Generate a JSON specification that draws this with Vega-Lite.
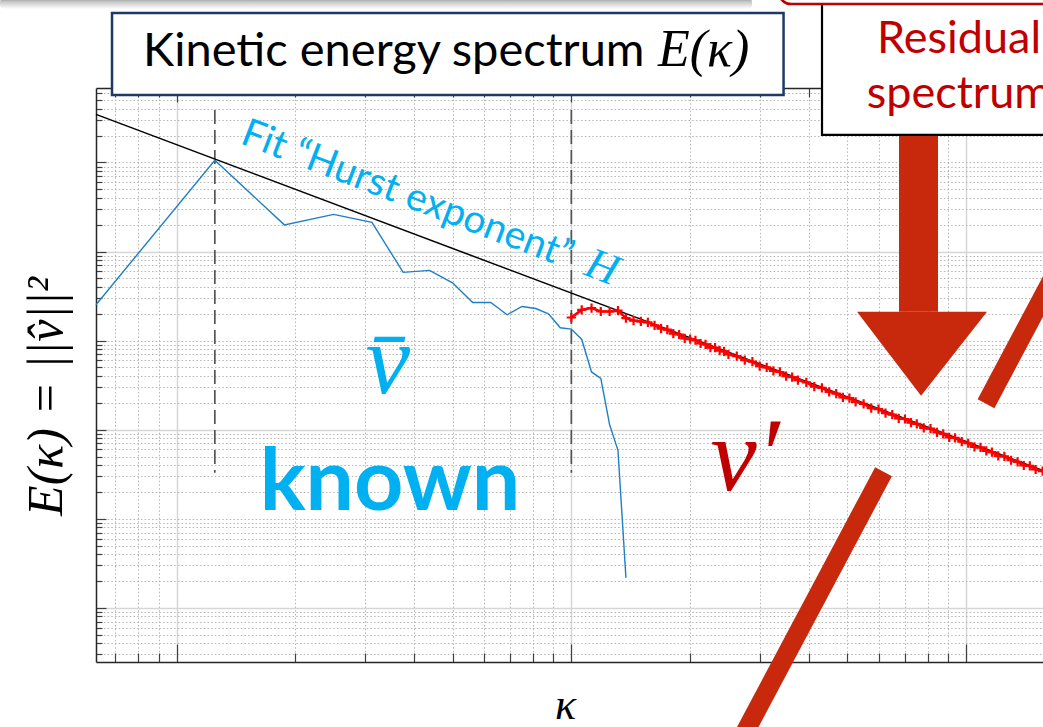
{
  "$schema": "https://vega.github.io/schema/vega-lite/v6.json",
  "width": 947,
  "height": 574,
  "autosize": {"type": "none"},
  "padding": {"left": 96, "top": 88, "right": 0, "bottom": 65},
  "background": "white",
  "config": {"view": {"stroke": null}},
  "datasets": {
    "blue": [
      {"k": 6.25, "e": 2.524e-3}, {"k": 12.5, "e": 0.1060}, {"k": 18.75, "e": 0.01993}, {"k": 25, "e": 0.02614},
      {"k": 31.25, "e": 0.02127}, {"k": 37.5, "e": 5.843e-3}, {"k": 43.75, "e": 6.152e-3}, {"k": 50, "e": 4.455e-3},
      {"k": 56.25, "e": 2.678e-3}, {"k": 62.5, "e": 2.678e-3}, {"k": 68.75, "e": 1.950e-3}, {"k": 75, "e": 2.416e-3},
      {"k": 81.25, "e": 2.294e-3}, {"k": 87.5, "e": 2.000e-3}, {"k": 93.75, "e": 1.393e-3}, {"k": 100, "e": 1.348e-3},
      {"k": 106.25, "e": 1.030e-3}, {"k": 112.5, "e": 4.450e-4}, {"k": 118.75, "e": 3.763e-4}, {"k": 125, "e": 1.138e-4},
      {"k": 131.25, "e": 5.857e-5}, {"k": 137.5, "e": 2.171e-6}
    ],
    "fit": [{"k": 6.25, "e": 0.3470}, {"k": 1566, "e": 3.484e-5}],
    "vlines": [{"k": 12.5, "e": 0.3885, "e2": 3.293e-5}, {"k": 100, "e": 0.3885, "e2": 3.293e-5}],
    "red": [
      {"k": 100, "e": 1.817e-3}, {"k": 106.25, "e": 2.216e-3}, {"k": 112.5, "e": 2.319e-3}, {"k": 118.75, "e": 2.123e-3},
      {"k": 125, "e": 2.123e-3}, {"k": 131.25, "e": 2.171e-3}, {"k": 137.5, "e": 1.790e-3}, {"k": 143.75, "e": 1.681e-3},
      {"k": 150, "e": 1.640e-3}, {"k": 156.25, "e": 1.605e-3}, {"k": 162.5, "e": 1.486e-3}, {"k": 168.75, "e": 1.364e-3},
      {"k": 175, "e": 1.328e-3}, {"k": 181.25, "e": 1.197e-3}, {"k": 187.5, "e": 1.171e-3}, {"k": 193.75, "e": 1.059e-3},
      {"k": 200, "e": 1.039e-3}, {"k": 206.25, "e": 1.010e-3}, {"k": 212.5, "e": 9.286e-4}, {"k": 218.75, "e": 9.054e-4},
      {"k": 225, "e": 8.348e-4}, {"k": 231.25, "e": 8.350e-4}, {"k": 237.5, "e": 7.715e-4}, {"k": 243.75, "e": 7.560e-4},
      {"k": 250, "e": 7.000e-4}, {"k": 262.5, "e": 6.682e-4}, {"k": 275, "e": 6.043e-4}, {"k": 287.5, "e": 5.807e-4},
      {"k": 300, "e": 5.166e-4}, {"k": 312.5, "e": 4.997e-4}, {"k": 325, "e": 4.574e-4}, {"k": 337.5, "e": 4.446e-4},
      {"k": 350, "e": 3.996e-4}, {"k": 362.5, "e": 3.901e-4}, {"k": 375, "e": 3.603e-4}, {"k": 393.75, "e": 3.399e-4},
      {"k": 412.5, "e": 3.039e-4}, {"k": 431.25, "e": 2.954e-4}, {"k": 450, "e": 2.659e-4}, {"k": 468.75, "e": 2.542e-4},
      {"k": 487.5, "e": 2.300e-4}, {"k": 506.25, "e": 2.262e-4}, {"k": 525, "e": 2.057e-4}, {"k": 550, "e": 1.948e-4},
      {"k": 575, "e": 1.747e-4}, {"k": 600, "e": 1.704e-4}, {"k": 625, "e": 1.538e-4}, {"k": 650, "e": 1.474e-4},
      {"k": 675, "e": 1.337e-4}, {"k": 700, "e": 1.318e-4}, {"k": 725, "e": 1.201e-4}, {"k": 750, "e": 1.161e-4},
      {"k": 781.25, "e": 1.048e-4}, {"k": 812.5, "e": 1.028e-4}, {"k": 843.75, "e": 9.326e-5}, {"k": 875, "e": 8.983e-5},
      {"k": 906.25, "e": 8.185e-5}, {"k": 937.5, "e": 8.100e-5}, {"k": 975, "e": 7.330e-5}, {"k": 1012.5, "e": 7.043e-5},
      {"k": 1050, "e": 6.403e-5}, {"k": 1087.5, "e": 6.324e-5}, {"k": 1125, "e": 5.774e-5}, {"k": 1162.5, "e": 5.595e-5},
      {"k": 1206.25, "e": 5.082e-5}, {"k": 1250, "e": 5.014e-5}, {"k": 1300, "e": 4.538e-5}, {"k": 1350, "e": 4.360e-5},
      {"k": 1400, "e": 3.964e-5}, {"k": 1450, "e": 3.915e-5}, {"k": 1500, "e": 3.575e-5}, {"k": 1562.5, "e": 3.417e-5}
    ],
    "fitlabel": [{"k": 14.4, "e": 0.1657, "t": "Fit “Hurst exponent”"}],
    "hlabel": [{"k": 119.5, "e": 6.565e-3, "t": "H"}],
    "vbar": [{"k": 34.32, "e": 2.600e-4, "t": "v̄"}],
    "known": [{"k": 34.72, "e": 1.266e-5, "t": "known"}],
    "vprime": [{"k": 275.4, "e": 2.123e-5, "t": "v′"}],
    "shaft": [{"k": 676.1, "k2": 848.9, "e": 0.3001, "e2": 2.106e-3}],
    "head": [
      {"k": 529.3, "e": 2.106e-3, "e2": 2.106e-3},
      {"k": 768.9, "e": 2.106e-3, "e2": 2.406e-4},
      {"k": 1129.8, "e": 2.106e-3, "e2": 2.106e-3}
    ],
    "diag": [
      {"k": 617.8, "e": 3.379e-5, "k2": 253.1, "e2": 1.987e-8},
      {"k": 1123.2, "e": 1.956e-4, "k2": 1810, "e2": 1.045e-2}
    ],
    "topband": [{"k": 3.571, "k2": 286.9, "e": 7.011, "e2": 5.277}],
    "titlebox": [{"k": 6.862, "k2": 344.8, "e": 4.759, "e2": 0.5724}],
    "titletext": [{"k": 8.224, "e": 1.211, "t": "Kinetic energy spectrum"}],
    "titlemath": [{"k": 165.8, "e": 1.211, "t": "E(κ)"}],
    "resbox": [{"k": 431.5, "k2": 2184, "e": 30, "e2": 0.2037}],
    "restext": [{"k": 594.8, "e": 1.694, "t": "Residual"}, {"k": 560.1, "e": 0.4090, "t": "spectrum"}],
    "redbox": [{"k": 335.8, "k2": 2184, "e": 18.71, "e2": 6.004}]
  },
  "resolve": {"axis": {"x": "independent", "y": "independent"}},
  "encoding": {
    "x": {"field": "k", "type": "quantitative", "scale": {"type": "log", "domain": [6.25, 1566], "nice": false}, "axis": null},
    "y": {"field": "e", "type": "quantitative", "scale": {"type": "log", "domain": [2.466e-7, 0.6856], "nice": false}, "axis": null}
  },
  "layer": [
    {
      "data": {"name": "vlines"},
      "mark": {"type": "rule", "color": "#555555", "strokeWidth": 1.7, "strokeDash": [14, 6]},
      "encoding": {
        "x": {
          "field": "k", "type": "quantitative",
          "scale": {"type": "log", "domain": [6.25, 1566], "nice": false},
          "axis": {
            "orient": "bottom",
            "values": [7, 8, 9, 10, 20, 30, 40, 50, 60, 70, 80, 90, 100, 200, 300, 400, 500, 600, 700, 800, 900, 1000],
            "labels": false,
            "grid": true,
            "gridColor": {"condition": {"test": "abs(log(datum.value)/LN10 - round(log(datum.value)/LN10)) < 0.001", "value": "#d6d6d6"}, "value": "#b5b5b5"},
            "gridDash": {"condition": {"test": "abs(log(datum.value)/LN10 - round(log(datum.value)/LN10)) < 0.001", "value": []}, "value": [1.5, 2.2]},
            "gridWidth": {"condition": {"test": "abs(log(datum.value)/LN10 - round(log(datum.value)/LN10)) < 0.001", "value": 1.5}, "value": 1},
            "tickSize": {"condition": {"test": "abs(log(datum.value)/LN10 - round(log(datum.value)/LN10)) < 0.001", "value": -18}, "value": -9},
            "tickColor": "#404040",
            "tickWidth": 1.2,
            "domainColor": "#262626",
            "domainWidth": 1.5,
            "title": "κ",
            "titleFont": "Liberation Serif",
            "titleFontStyle": "italic",
            "titleFontWeight": "normal",
            "titleFontSize": 44,
            "titleColor": "#000000",
            "titleX": 469,
            "titleY": 43,
            "titleAlign": "center",
            "titleBaseline": "middle"
          }
        },
        "y": {
          "field": "e", "type": "quantitative",
          "scale": {"type": "log", "domain": [2.466e-7, 0.6856], "nice": false},
          "axis": {
            "orient": "left",
            "values": [3e-7, 4e-7, 5e-7, 6e-7, 7e-7, 8e-7, 9e-7,
              1e-6, 2e-6, 3e-6, 4e-6, 5e-6, 6e-6, 7e-6, 8e-6, 9e-6,
              1e-5, 2e-5, 3e-5, 4e-5, 5e-5, 6e-5, 7e-5, 8e-5, 9e-5,
              1e-4, 2e-4, 3e-4, 4e-4, 5e-4, 6e-4, 7e-4, 8e-4, 9e-4,
              1e-3, 2e-3, 3e-3, 4e-3, 5e-3, 6e-3, 7e-3, 8e-3, 9e-3,
              1e-2, 2e-2, 3e-2, 4e-2, 5e-2, 6e-2, 7e-2, 8e-2, 9e-2,
              1e-1, 2e-1, 3e-1, 4e-1, 5e-1, 6e-1],
            "labels": false,
            "grid": true,
            "gridColor": {"condition": {"test": "abs(log(datum.value)/LN10 - round(log(datum.value)/LN10)) < 0.001 && round(log(datum.value)/LN10) % 2 == 0", "value": "#d6d6d6"}, "value": "#b5b5b5"},
            "gridDash": {"condition": {"test": "abs(log(datum.value)/LN10 - round(log(datum.value)/LN10)) < 0.001 && round(log(datum.value)/LN10) % 2 == 0", "value": []}, "value": [1.5, 2.2]},
            "gridWidth": {"condition": {"test": "abs(log(datum.value)/LN10 - round(log(datum.value)/LN10)) < 0.001 && round(log(datum.value)/LN10) % 2 == 0", "value": 1.5}, "value": 1},
            "tickSize": {"condition": {"test": "abs(log(datum.value)/LN10 - round(log(datum.value)/LN10)) < 0.001", "value": -10}, "value": -6},
            "tickColor": "#404040",
            "tickWidth": 1.2,
            "domainColor": "#262626",
            "domainWidth": 1.5,
            "title": "E(κ) = ||v̂||²",
            "titleFont": "Liberation Serif",
            "titleFontStyle": "italic",
            "titleFontWeight": "normal",
            "titleFontSize": 50,
            "titleColor": "#000000",
            "titleX": -50,
            "titleY": 308,
            "titleAngle": -90,
            "titleAlign": "center",
            "titleBaseline": "middle"
          }
        },
        "y2": {"field": "e2"}
      }
    },
    {
      "data": {"name": "fit"},
      "mark": {"type": "line", "color": "#000000", "strokeWidth": 1.5},
      "encoding": {
        "x": {
          "field": "k", "type": "quantitative",
          "scale": {"type": "log", "domain": [6.25, 1566], "nice": false},
          "axis": {
            "orient": "top",
            "values": [7, 8, 9, 10, 20, 30, 40, 50, 60, 70, 80, 90, 100, 200, 300, 400, 500, 600, 700, 800, 900, 1000],
            "labels": false,
            "grid": false,
            "title": null,
            "tickSize": {"condition": {"test": "abs(log(datum.value)/LN10 - round(log(datum.value)/LN10)) < 0.001", "value": -14}, "value": -9},
            "tickColor": "#404040",
            "tickWidth": 1.2,
            "domainColor": "#262626",
            "domainWidth": 1.5
          }
        }
      }
    },
    {
      "data": {"name": "blue"},
      "mark": {"type": "line", "color": "#1f7fc4", "strokeWidth": 1.4}
    },
    {
      "data": {"name": "red"},
      "mark": {"type": "line", "color": "#ff0000", "strokeWidth": 2.6}
    },
    {
      "data": {"name": "red"},
      "mark": {"type": "point", "shape": "M-1,0L1,0M0,-1L0,1", "size": 85, "filled": false, "strokeWidth": 2.2, "color": "#ff0000", "opacity": 1}
    },
    {
      "data": {"name": "fitlabel"},
      "mark": {"type": "text", "font": "Lato", "fontSize": 39, "color": "#00b0f0", "angle": 21, "align": "left", "baseline": "alphabetic"},
      "encoding": {"text": {"field": "t"}}
    },
    {
      "data": {"name": "hlabel"},
      "mark": {"type": "text", "font": "Liberation Serif", "fontStyle": "italic", "fontSize": 44, "color": "#00b0f0", "angle": 21, "align": "center", "baseline": "middle"},
      "encoding": {"text": {"field": "t"}}
    },
    {
      "data": {"name": "vbar"},
      "mark": {"type": "text", "font": "Liberation Serif", "fontStyle": "italic", "fontSize": 100, "color": "#00b0f0", "align": "center", "baseline": "alphabetic"},
      "encoding": {"text": {"field": "t"}}
    },
    {
      "data": {"name": "known"},
      "mark": {"type": "text", "font": "Lato", "fontWeight": "bold", "fontSize": 86, "color": "#00b0f0", "align": "center", "baseline": "alphabetic"},
      "encoding": {"text": {"field": "t"}}
    },
    {
      "data": {"name": "vprime"},
      "mark": {"type": "text", "font": "Liberation Serif", "fontStyle": "italic", "fontSize": 104, "color": "#c00000", "align": "center", "baseline": "alphabetic"},
      "encoding": {"text": {"field": "t"}}
    },
    {
      "data": {"name": "shaft"},
      "mark": {"type": "rect", "color": "#c8290c"},
      "encoding": {"x2": {"field": "k2"}, "y2": {"field": "e2"}}
    },
    {
      "data": {"name": "head"},
      "mark": {"type": "area", "color": "#c8290c", "orient": "vertical", "opacity": 1},
      "encoding": {"y2": {"field": "e2"}}
    },
    {
      "data": {"name": "diag"},
      "mark": {"type": "rule", "color": "#c8290c", "strokeWidth": 19, "strokeCap": "butt"},
      "encoding": {"x2": {"field": "k2"}, "y2": {"field": "e2"}}
    },
    {
      "data": {"name": "topband"},
      "mark": {"type": "rect", "cornerRadius": 4, "color": {"gradient": "linear", "x1": 0, "y1": 0, "x2": 0, "y2": 1, "stops": [{"offset": 0, "color": "#8f8f8f"}, {"offset": 0.35, "color": "#c8c8c8"}, {"offset": 1, "color": "#ffffff"}]}},
      "encoding": {"x2": {"field": "k2"}, "y2": {"field": "e2"}}
    },
    {
      "data": {"name": "titlebox"},
      "mark": {"type": "rect", "fill": "#ffffff", "stroke": "#1f3864", "strokeWidth": 2.5},
      "encoding": {"x2": {"field": "k2"}, "y2": {"field": "e2"}}
    },
    {
      "data": {"name": "titletext"},
      "mark": {"type": "text", "font": "Lato", "fontSize": 47, "color": "#000000", "align": "left", "baseline": "alphabetic"},
      "encoding": {"text": {"field": "t"}}
    },
    {
      "data": {"name": "titlemath"},
      "mark": {"type": "text", "font": "Liberation Serif", "fontStyle": "italic", "fontSize": 52, "color": "#000000", "align": "left", "baseline": "alphabetic"},
      "encoding": {"text": {"field": "t"}}
    },
    {
      "data": {"name": "resbox"},
      "mark": {"type": "rect", "fill": "#ffffff", "stroke": "#000000", "strokeWidth": 2.2},
      "encoding": {"x2": {"field": "k2"}, "y2": {"field": "e2"}}
    },
    {
      "data": {"name": "restext"},
      "mark": {"type": "text", "font": "Lato", "fontSize": 45, "color": "#c00000", "align": "left", "baseline": "alphabetic"},
      "encoding": {"text": {"field": "t"}}
    },
    {
      "data": {"name": "redbox"},
      "mark": {"type": "rect", "fill": "#ffffff", "stroke": "#c00000", "strokeWidth": 2.5, "cornerRadius": 12},
      "encoding": {"x2": {"field": "k2"}, "y2": {"field": "e2"}}
    }
  ]
}
